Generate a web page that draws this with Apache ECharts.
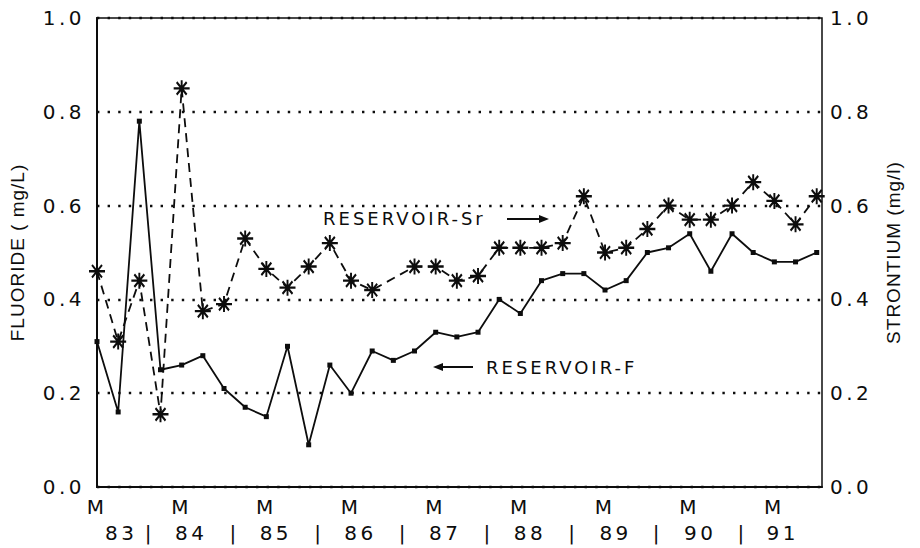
<!DOCTYPE html>
<html>
<head>
<meta charset="utf-8">
<script src="https://cdn.jsdelivr.net/npm/echarts@6/dist/echarts.min.js"></script>
<style>
  html, body { margin: 0; padding: 0; background: #fff; }
  #chart { width: 920px; height: 548px; }
  #chart text { letter-spacing: 3.5px; }
</style>
</head>
<body>
<div id="chart"></div>
<script>
// quarterly samples, first one is March 1983 (x = quarter index)
var fluoride = [
  0.31, 0.16, 0.78, 0.25, 0.26, 0.28, 0.21, 0.17, 0.15, 0.30,
  0.09, 0.26, 0.20, 0.29, 0.27, 0.29, 0.33, 0.32, 0.33, 0.40,
  0.37, 0.44, 0.455, 0.455, 0.42, 0.44, 0.50, 0.51, 0.54, 0.46,
  0.54, 0.50, 0.48, 0.48, 0.50
];
// one sample missing (index 14)
var strontium = [
  0.46, 0.31, 0.44, 0.155, 0.85, 0.375, 0.39, 0.53, 0.465, 0.425,
  0.47, 0.52, 0.44, 0.42, null, 0.47, 0.47, 0.44, 0.45, 0.51,
  0.51, 0.51, 0.52, 0.62, 0.50, 0.51, 0.55, 0.60, 0.57, 0.57,
  0.60, 0.65, 0.61, 0.56, 0.62
];

var monthTicks = [0, 4, 8, 12, 16, 20, 24, 28, 32];
var yearLabels = ["83", "84", "85", "86", "87", "88", "89", "90", "91"];
var yearPos = [1.15, 4.45, 8.45, 12.45, 16.45, 20.45, 24.5, 28.5, 32.4];
var sepPos = [2.5, 6.5, 10.5, 14.5, 18.5, 22.5, 26.5, 30.5];

var leftName = "FLUORIDE ( mg/L)";
var rightName = "STRONTIUM (mg/l)";

var xMax = 34.25;
var ink = "#0d0d0d";
var tickFont = "DejaVu Sans";

// asterisk marker
var star =
  "path://M0 8.8L20 8.8L20 11.2L0 11.2Z" +
  "M8.8 2L11.2 2L11.2 18L8.8 18Z" +
  "M4.6 2.9L17.1 15.4L15.4 17.1L2.9 4.6Z" +
  "M15.4 2.9L17.1 4.6L4.6 17.1L2.9 15.4Z";

var chart = echarts.init(document.getElementById("chart"), null, { renderer: "svg" });

var option = {
  animation: false,
  backgroundColor: "#fff",
  grid: {
    left: 96,
    right: 98,
    top: 18,
    bottom: 61,
    show: true,
    borderColor: ink,
    borderWidth: 1.5,
  },
  xAxis: [
    {
      type: "value",
      min: 0,
      max: xMax,
      position: "bottom",
      axisLine: { show: true, onZero: false, lineStyle: { color: ink, width: 2 } },
      axisTick: { show: false },
      splitLine: { show: false },
      axisLabel: {
        customValues: monthTicks,
        formatter: function () { return "M"; },
        color: ink,
        fontFamily: tickFont,
        fontSize: 20,
        margin: 10,
      },
    },
    {
      type: "value",
      min: 0,
      max: xMax,
      position: "bottom",
      axisLine: { show: false },
      axisTick: { show: false },
      splitLine: { show: false },
      axisLabel: {
        customValues: yearPos.concat(sepPos),
        formatter: function (v) {
          var i = yearPos.indexOf(v);
          return i >= 0 ? yearLabels[i] : "|";
        },
        color: ink,
        fontFamily: tickFont,
        fontSize: 20,
        margin: 36,
      },
    },
  ],
  yAxis: [
    {
      type: "value",
      position: "left",
      min: 0,
      max: 1,
      interval: 0.2,
      name: leftName,
      nameLocation: "middle",
      nameGap: 70,
      nameTextStyle: {
        color: ink,
        fontFamily: "Liberation Sans",
        fontSize: 19,
      },
      axisLine: { show: true, lineStyle: { color: ink, width: 2 } },
      axisTick: { show: false },
      axisLabel: {
        formatter: function (v) { return v.toFixed(1); },
        color: ink,
        fontFamily: tickFont,
        fontSize: 20,
        margin: 12,
      },
      splitLine: {
        show: true,
        lineStyle: { color: ink, width: 2.4, type: [2.4, 8.2] },
      },
    },
    {
      type: "value",
      position: "right",
      min: 0,
      max: 1,
      interval: 0.2,
      name: rightName,
      nameLocation: "middle",
      nameGap: 62,
      nameTextStyle: {
        color: ink,
        fontFamily: "Liberation Sans",
        fontSize: 19,
      },
      axisLine: { show: true, lineStyle: { color: ink, width: 1.5 } },
      axisTick: { show: false },
      axisLabel: {
        formatter: function (v) { return v.toFixed(1); },
        color: ink,
        fontFamily: tickFont,
        fontSize: 20,
        margin: 8,
      },
      splitLine: { show: false },
    },
  ],
  series: [
    {
      name: "RESERVOIR-F",
      type: "line",
      xAxisIndex: 0,
      yAxisIndex: 0,
      data: fluoride.map(function (v, i) { return [i, v]; }),
      symbol: "rect",
      symbolSize: 5,
      showAllSymbol: true,
      lineStyle: { color: ink, width: 1.8 },
      itemStyle: { color: ink },
      z: 3,
    },
    {
      name: "RESERVOIR-Sr",
      type: "line",
      xAxisIndex: 0,
      yAxisIndex: 1,
      data: strontium.map(function (v, i) { return [i, v]; }),
      connectNulls: true,
      symbol: star,
      symbolSize: 16,
      showAllSymbol: true,
      lineStyle: { color: ink, width: 1.8, type: [9, 6] },
      itemStyle: { color: ink },
      z: 4,
    },
  ],
  graphic: [
    {
      type: "text",
      x: 323,
      y: 218,
      style: {
        text: "RESERVOIR-Sr",
        fill: ink,
        fontFamily: tickFont,
        fontSize: 18,
        verticalAlign: "middle",
      },
    },
    {
      type: "line",
      shape: { x1: 507, y1: 219, x2: 541, y2: 219 },
      style: { stroke: ink, lineWidth: 2 },
    },
    {
      type: "polygon",
      shape: { points: [[539, 215], [549, 219], [539, 223]] },
      style: { fill: ink },
    },
    {
      type: "text",
      x: 486,
      y: 367,
      style: {
        text: "RESERVOIR-F",
        fill: ink,
        fontFamily: tickFont,
        fontSize: 18,
        verticalAlign: "middle",
      },
    },
    {
      type: "line",
      shape: { x1: 441, y1: 367, x2: 473, y2: 367 },
      style: { stroke: ink, lineWidth: 2 },
    },
    {
      type: "polygon",
      shape: { points: [[443, 363], [433, 367], [443, 371]] },
      style: { fill: ink },
    },
  ],
};

// the scanned original is widely tracked; axis names are set tighter
chart.on("finished", function () {
  var texts = document.querySelectorAll("#chart text");
  texts.forEach(function (t) {
    var s = t.textContent;
    if (s === leftName || s === rightName) {
      t.style.letterSpacing = "1px";
    } else if (s.indexOf("RESERVOIR") === 0) {
      t.style.letterSpacing = "3px";
    }
  });
});

chart.setOption(option);
</script>
</body>
</html>
